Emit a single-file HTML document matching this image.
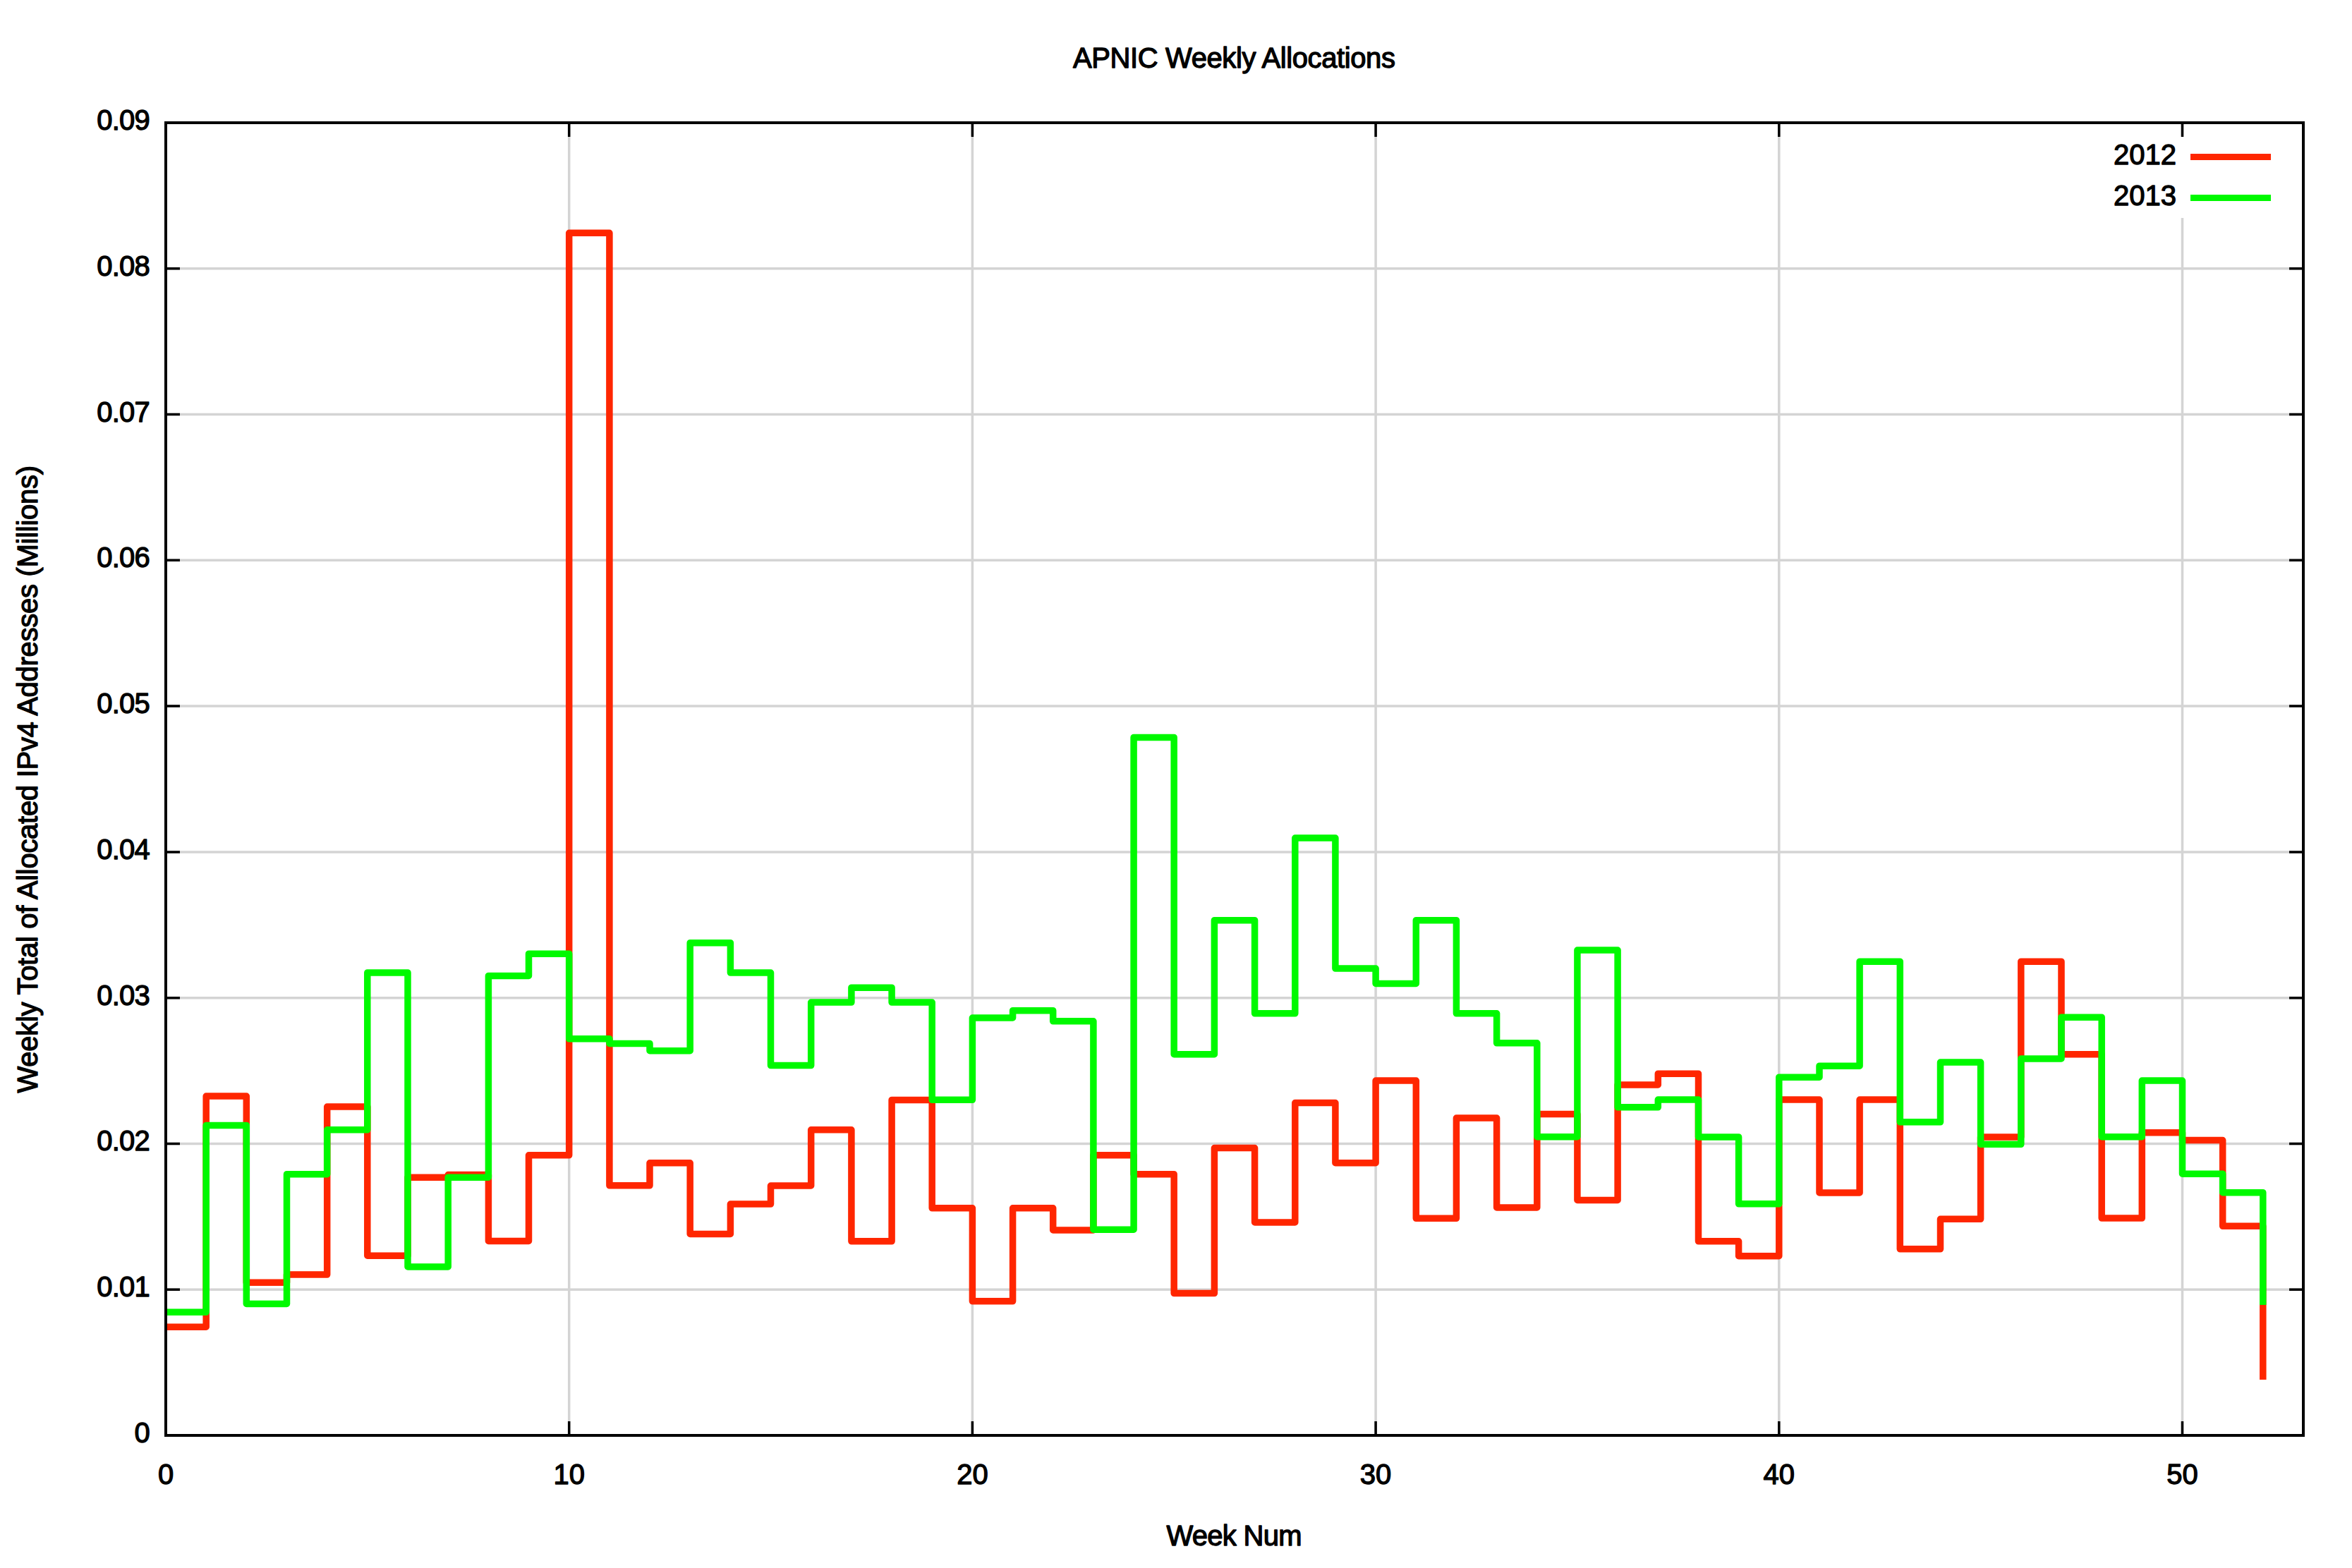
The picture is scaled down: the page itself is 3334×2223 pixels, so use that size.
<!DOCTYPE html>
<html><head><meta charset="utf-8"><title>APNIC Weekly Allocations</title>
<style>html,body{margin:0;padding:0;background:#fff}svg{display:block}text{font-family:"Liberation Sans",sans-serif;font-size:40px;fill:#000;stroke:#000;stroke-width:1.3px;stroke-linejoin:round}</style></head><body>
<svg width="3334" height="2223" viewBox="0 0 3334 2223">
<rect width="3334" height="2223" fill="#fff"/>
<path d="M235.0 1828.2 H3265.0 M235.0 1621.4 H3265.0 M235.0 1414.7 H3265.0 M235.0 1207.9 H3265.0 M235.0 1001.1 H3265.0 M235.0 794.3 H3265.0 M235.0 587.6 H3265.0 M235.0 380.8 H3265.0 M806.7 174.0 V2035.0 M1378.4 174.0 V2035.0 M1950.1 174.0 V2035.0 M2521.8 174.0 V2035.0 M3093.5 174.0 V2035.0" stroke="#d4d4d4" stroke-width="3.5" fill="none"/>
<rect x="2985" y="194" width="250" height="115" fill="#fff"/>
<path d="M235.0 1828.2 h20 M3265.0 1828.2 h-20 M235.0 1621.4 h20 M3265.0 1621.4 h-20 M235.0 1414.7 h20 M3265.0 1414.7 h-20 M235.0 1207.9 h20 M3265.0 1207.9 h-20 M235.0 1001.1 h20 M3265.0 1001.1 h-20 M235.0 794.3 h20 M3265.0 794.3 h-20 M235.0 587.6 h20 M3265.0 587.6 h-20 M235.0 380.8 h20 M3265.0 380.8 h-20 M806.7 2035.0 v-20 M806.7 174.0 v20 M1378.4 2035.0 v-20 M1378.4 174.0 v20 M1950.1 2035.0 v-20 M1950.1 174.0 v20 M2521.8 2035.0 v-20 M2521.8 174.0 v20 M3093.5 2035.0 v-20 M3093.5 174.0 v20" stroke="#000" stroke-width="3.5" fill="none"/>
<path d="M235.0 1881.2 L292.2 1881.2 L292.2 1554.0 L349.3 1554.0 L349.3 1818.3 L406.5 1818.3 L406.5 1807.1 L463.7 1807.1 L463.7 1569.1 L520.8 1569.1 L520.8 1780.2 L578.0 1780.2 L578.0 1669.2 L635.2 1669.2 L635.2 1665.5 L692.4 1665.5 L692.4 1759.4 L749.5 1759.4 L749.5 1637.8 L806.7 1637.8 L806.7 330.3 L863.9 330.3 L863.9 1680.8 L921.0 1680.8 L921.0 1648.8 L978.2 1648.8 L978.2 1749.4 L1035.4 1749.4 L1035.4 1707.1 L1092.5 1707.1 L1092.5 1681.0 L1149.7 1681.0 L1149.7 1601.8 L1206.9 1601.8 L1206.9 1759.8 L1264.1 1759.8 L1264.1 1559.4 L1321.2 1559.4 L1321.2 1712.8 L1378.4 1712.8 L1378.4 1844.8 L1435.6 1844.8 L1435.6 1712.8 L1492.7 1712.8 L1492.7 1743.9 L1549.9 1743.9 L1549.9 1637.7 L1607.1 1637.7 L1607.1 1664.7 L1664.2 1664.7 L1664.2 1833.6 L1721.4 1833.6 L1721.4 1627.6 L1778.6 1627.6 L1778.6 1732.9 L1835.8 1732.9 L1835.8 1563.5 L1892.9 1563.5 L1892.9 1648.7 L1950.1 1648.7 L1950.1 1532.1 L2007.3 1532.1 L2007.3 1727.3 L2064.4 1727.3 L2064.4 1585.1 L2121.6 1585.1 L2121.6 1712.0 L2178.8 1712.0 L2178.8 1579.5 L2235.9 1579.5 L2235.9 1701.5 L2293.1 1701.5 L2293.1 1537.9 L2350.3 1537.9 L2350.3 1522.2 L2407.5 1522.2 L2407.5 1759.8 L2464.6 1759.8 L2464.6 1780.7 L2521.8 1780.7 L2521.8 1559.0 L2579.0 1559.0 L2579.0 1690.9 L2636.1 1690.9 L2636.1 1559.0 L2693.3 1559.0 L2693.3 1770.8 L2750.5 1770.8 L2750.5 1728.3 L2807.6 1728.3 L2807.6 1611.9 L2864.8 1611.9 L2864.8 1363.2 L2922.0 1363.2 L2922.0 1494.7 L2979.2 1494.7 L2979.2 1727.1 L3036.3 1727.1 L3036.3 1605.7 L3093.5 1605.7 L3093.5 1616.5 L3150.7 1616.5 L3150.7 1738.3 L3207.8 1738.3 L3207.8 1956.0" stroke="#ff2600" stroke-width="9.5" fill="none" stroke-linejoin="round"/>
<path d="M235.0 1860.3 L292.2 1860.3 L292.2 1595.4 L349.3 1595.4 L349.3 1848.5 L406.5 1848.5 L406.5 1664.7 L463.7 1664.7 L463.7 1601.8 L520.8 1601.8 L520.8 1378.9 L578.0 1378.9 L578.0 1796.0 L635.2 1796.0 L635.2 1669.2 L692.4 1669.2 L692.4 1383.4 L749.5 1383.4 L749.5 1352.2 L806.7 1352.2 L806.7 1472.8 L863.9 1472.8 L863.9 1479.4 L921.0 1479.4 L921.0 1489.7 L978.2 1489.7 L978.2 1336.7 L1035.4 1336.7 L1035.4 1379.1 L1092.5 1379.1 L1092.5 1510.6 L1149.7 1510.6 L1149.7 1421.1 L1206.9 1421.1 L1206.9 1400.2 L1264.1 1400.2 L1264.1 1421.1 L1321.2 1421.1 L1321.2 1559.3 L1378.4 1559.3 L1378.4 1443.0 L1435.6 1443.0 L1435.6 1432.7 L1492.7 1432.7 L1492.7 1447.8 L1549.9 1447.8 L1549.9 1743.2 L1607.1 1743.2 L1607.1 1045.4 L1664.2 1045.4 L1664.2 1494.7 L1721.4 1494.7 L1721.4 1304.7 L1778.6 1304.7 L1778.6 1436.8 L1835.8 1436.8 L1835.8 1188.0 L1892.9 1188.0 L1892.9 1373.1 L1950.1 1373.1 L1950.1 1394.4 L2007.3 1394.4 L2007.3 1304.7 L2064.4 1304.7 L2064.4 1436.8 L2121.6 1436.8 L2121.6 1478.8 L2178.8 1478.8 L2178.8 1611.7 L2235.9 1611.7 L2235.9 1347.1 L2293.1 1347.1 L2293.1 1569.8 L2350.3 1569.8 L2350.3 1559.0 L2407.5 1559.0 L2407.5 1611.9 L2464.6 1611.9 L2464.6 1706.8 L2521.8 1706.8 L2521.8 1527.2 L2579.0 1527.2 L2579.0 1511.2 L2636.1 1511.2 L2636.1 1363.2 L2693.3 1363.2 L2693.3 1590.8 L2750.5 1590.8 L2750.5 1506.1 L2807.6 1506.1 L2807.6 1622.3 L2864.8 1622.3 L2864.8 1500.9 L2922.0 1500.9 L2922.0 1442.2 L2979.2 1442.2 L2979.2 1611.7 L3036.3 1611.7 L3036.3 1532.1 L3093.5 1532.1 L3093.5 1664.2 L3150.7 1664.2 L3150.7 1690.7 L3207.8 1690.7 L3207.8 1849.9" stroke="#00f900" stroke-width="9.5" fill="none" stroke-linejoin="round"/>
<path d="M3105 222.4 H3219" stroke="#ff2600" stroke-width="9"/>
<path d="M3105 280.5 H3219" stroke="#00f900" stroke-width="9"/>
<text x="3085" y="233" text-anchor="end">2012</text>
<text x="3085" y="291" text-anchor="end">2013</text>
<rect x="235.0" y="174.0" width="3030.0" height="1861.0" fill="none" stroke="#000" stroke-width="4"/>
<text x="212" y="2045.0" text-anchor="end" letter-spacing="-0.8">0</text>
<text x="212" y="1838.2" text-anchor="end" letter-spacing="-0.8">0.01</text>
<text x="212" y="1631.4" text-anchor="end" letter-spacing="-0.8">0.02</text>
<text x="212" y="1424.7" text-anchor="end" letter-spacing="-0.8">0.03</text>
<text x="212" y="1217.9" text-anchor="end" letter-spacing="-0.8">0.04</text>
<text x="212" y="1011.1" text-anchor="end" letter-spacing="-0.8">0.05</text>
<text x="212" y="804.3" text-anchor="end" letter-spacing="-0.8">0.06</text>
<text x="212" y="597.6" text-anchor="end" letter-spacing="-0.8">0.07</text>
<text x="212" y="390.8" text-anchor="end" letter-spacing="-0.8">0.08</text>
<text x="212" y="184.0" text-anchor="end" letter-spacing="-0.8">0.09</text>
<text x="235.0" y="2104" text-anchor="middle">0</text>
<text x="806.7" y="2104" text-anchor="middle">10</text>
<text x="1378.4" y="2104" text-anchor="middle">20</text>
<text x="1950.1" y="2104" text-anchor="middle">30</text>
<text x="2521.8" y="2104" text-anchor="middle">40</text>
<text x="3093.5" y="2104" text-anchor="middle">50</text>
<text x="1749.5" y="96.3" text-anchor="middle" id="title" textLength="456.9" lengthAdjust="spacing">APNIC Weekly Allocations</text>
<text x="1749.5" y="2190.8" text-anchor="middle" id="xl" textLength="192.2" lengthAdjust="spacing">Week Num</text>
<text transform="translate(53 1104.7) rotate(-90)" text-anchor="middle" id="yl" textLength="889.4" lengthAdjust="spacing">Weekly Total of Allocated IPv4 Addresses (Millions)</text>
</svg></body></html>
